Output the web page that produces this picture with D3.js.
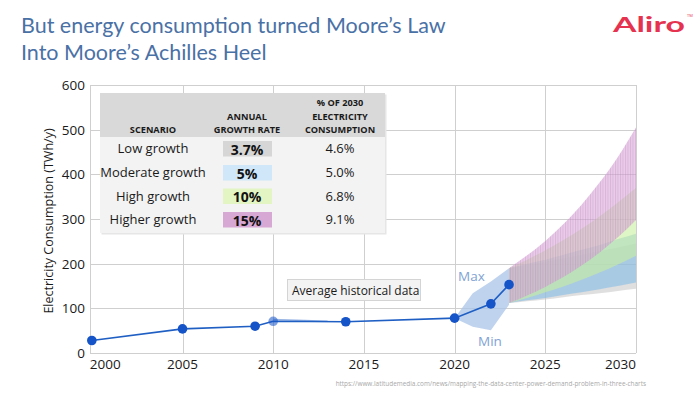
<!DOCTYPE html>
<html lang="en">
<head>
<meta charset="UTF-8">
<title>Moore's Achilles Heel</title>
<script src="https://d3js.org/d3.v7.min.js"></script>
<style>
    body { margin: 0; background: #fff; }
    svg { display: block; }
</style>
</head>
<body>
<div id="chart"></div>
<script>
    // historical data (TWh/y)
    const histYears = [2000, 2005, 2009, 2010, 2014, 2020, 2022, 2023];
    const histValues = [28, 54, 60, 71, 70, 78, 110, 153];

    // min / max envelope around recent years
    const rangeYears = [2020, 2021, 2022, 2023];
    const rangeMax = [78, 134, 160, 190];
    const rangeMin = [78, 59, 51, 108];

    // projections 2023 -> 2030
    const projYears = [2023, 2024, 2025, 2026, 2027, 2028, 2029, 2030];
    const lowMin = [112, 116, 120, 125, 130, 134, 139, 144];
    const lowMax = [190, 197, 204, 212, 220, 228, 236, 245];
    const modMin = [112, 118, 123, 130, 136, 143, 150, 158];
    const modMax = [190, 200, 209, 220, 231, 242, 255, 267];
    const highMin = [112, 123, 136, 149, 164, 180, 198, 218];
    const highMax = [190, 209, 230, 253, 278, 306, 337, 370];
    const higherMin = [112, 129, 148, 170, 196, 225, 259, 298];
    const higherMax = [190, 219, 251, 289, 332, 382, 439, 505];

    // table
    const scenarios = ["Low growth", "Moderate growth", "High growth", "Higher growth"];
    const growthRates = ["3.7%", "5%", "10%", "15%"];
    const shares2030 = ["4.6%", "5.0%", "6.8%", "9.1%"];

    const xTicks = [2000, 2005, 2010, 2015, 2020, 2025, 2030];
    const yTicks = [0, 100, 200, 300, 400, 500, 600];

    const width = 700, height = 393;
    const font = "'Open Sans', sans-serif";

    const svg = d3.select("#chart").append("svg")
        .attr("width", width)
        .attr("height", height);

    const x = d3.scaleLinear().domain([1999.9, 2030]).range([90, 636]);
    const y = d3.scaleLinear().domain([0, 600]).range([353, 85]);

    // title
    svg.append("text")
        .attr("x", 21).attr("y", 33)
        .attr("font-family", "Lato, sans-serif")
        .attr("font-size", 21.5)
        .attr("fill", "#4a71a6")
        .selectAll("tspan")
        .data(["But energy consumption turned Moore\u2019s Law", "Into Moore\u2019s Achilles Heel"])
        .join("tspan")
        .attr("x", 21)
        .attr("dy", (d, i) => i ? 26.5 : 0)
        .text(d => d);

    // logo
    svg.append("text")
        .attr("x", 613).attr("y", 32)
        .attr("font-family", "Lato, sans-serif")
        .attr("font-weight", 700)
        .attr("font-size", 21)
        .attr("textLength", 72)
        .attr("lengthAdjust", "spacingAndGlyphs")
        .attr("fill", "#e5334f")
        .text("Aliro");
    svg.append("text")
        .attr("x", 687).attr("y", 17)
        .attr("font-family", font)
        .attr("font-size", 4)
        .attr("fill", "#e5334f")
        .text("TM");

    // grid
    const grid = svg.append("g").attr("stroke", "#cfcfcf").attr("stroke-width", 1);
    grid.selectAll("line.h")
        .data(yTicks)
        .join("line")
        .attr("x1", x(1999.9)).attr("x2", x(2030))
        .attr("y1", d => Math.round(y(d)) + 0.5).attr("y2", d => Math.round(y(d)) + 0.5);
    grid.selectAll("line.v")
        .data([1999.9].concat(xTicks.slice(1)))
        .join("line")
        .attr("x1", d => Math.round(x(d)) + 0.5).attr("x2", d => Math.round(x(d)) + 0.5)
        .attr("y1", y(600)).attr("y2", y(0));

    // tick labels
    svg.append("g")
        .selectAll("text")
        .data(yTicks)
        .join("text")
        .attr("x", 85)
        .attr("y", d => y(d) + 5)
        .attr("text-anchor", "end")
        .attr("font-family", font)
        .attr("font-size", 13.5)
        .attr("fill", "#1a1a1a")
        .text(d => d);

    svg.append("g")
        .selectAll("text")
        .data(xTicks)
        .join("text")
        .attr("x", (d, i) => i === 0 ? x(d) - 2 : x(d))
        .attr("y", 369)
        .attr("text-anchor", (d, i) => i === 0 ? "start" : (i === xTicks.length - 1 ? "end" : "middle"))
        .attr("font-family", font)
        .attr("font-size", 13.5)
        .attr("fill", "#1a1a1a")
        .text(d => d);

    svg.append("text")
        .attr("transform", "translate(53,221) rotate(-90)")
        .attr("text-anchor", "middle")
        .attr("font-family", font)
        .attr("font-size", 12.5)
        .attr("fill", "#1a1a1a")
        .text("Electricity Consumption (TWh/y)");

    // hatch pattern for the higher growth band
    const defs = svg.append("defs");
    defs.append("pattern")
        .attr("id", "hatch")
        .attr("patternUnits", "userSpaceOnUse")
        .attr("width", 2.5).attr("height", 6)
        .call(p => {
            p.append("rect").attr("width", 2.5).attr("height", 6).attr("fill", "#d9a2d8").attr("fill-opacity", 0.55);
            p.append("line").attr("x1", 0.5).attr("x2", 0.5).attr("y1", 0).attr("y2", 6)
                .attr("stroke", "#a67aa6").attr("stroke-opacity", 0.4).attr("stroke-width", 0.7);
        });

    // projection bands
    const area = d3.area()
        .x(d => x(d.year))
        .y0(d => y(d.lo))
        .y1(d => y(d.hi))
        .curve(d3.curveMonotoneX);

    const bands = [
        { lo: lowMin, hi: lowMax, fill: "#c4c4c4", op: 0.55 },
        { lo: modMin, hi: modMax, fill: "#86bce6", op: 0.6 },
        { lo: highMin, hi: highMax, fill: "#c8ee9e", op: 0.6 },
        { lo: higherMin, hi: higherMax, fill: "url(#hatch)", op: 1 }
    ];
    svg.append("g")
        .selectAll("path")
        .data(bands)
        .join("path")
        .attr("d", b => area(projYears.map((yr, i) => ({ year: yr, lo: b.lo[i], hi: b.hi[i] }))))
        .attr("fill", b => b.fill)
        .attr("fill-opacity", b => b.op);

    // min / max envelope
    const envArea = d3.area()
        .x(d => x(d.year))
        .y0(d => y(d.lo))
        .y1(d => y(d.hi));
    svg.append("path")
        .attr("d", envArea(rangeYears.map((yr, i) => ({ year: yr, lo: rangeMin[i], hi: rangeMax[i] }))))
        .attr("fill", "#a9c4e8")
        .attr("fill-opacity", 0.75);

    svg.append("text")
        .attr("x", 458).attr("y", 281)
        .attr("font-family", font).attr("font-size", 13.5)
        .attr("fill", "#7fa3d4")
        .text("Max");
    svg.append("text")
        .attr("x", 478).attr("y", 346)
        .attr("font-family", font).attr("font-size", 13.5)
        .attr("fill", "#7fa3d4")
        .text("Min");

    // historical line
    const hist = histYears.map((yr, i) => ({ year: yr, v: histValues[i] }));
    const line = d3.line().x(d => x(d.year)).y(d => y(d.v));

    svg.append("path")
        .attr("d", line([{ year: 2010, v: 75 }, { year: 2013, v: 71 }]))
        .attr("fill", "none")
        .attr("stroke", "#6f97d8")
        .attr("stroke-width", 1.5)
        .attr("stroke-opacity", 0.7);

    svg.append("path")
        .attr("d", line(hist))
        .attr("fill", "none")
        .attr("stroke", "#1f5fc4")
        .attr("stroke-width", 1.6);

    svg.append("g")
        .selectAll("circle")
        .data(hist)
        .join("circle")
        .attr("cx", d => x(d.year))
        .attr("cy", d => y(d.v))
        .attr("r", 4.8)
        .attr("fill", "#1553c8")
        .attr("fill-opacity", d => d.year === 2010 ? 0.55 : 1);

    // annotation box
    const ann = svg.append("g");
    ann.append("rect")
        .attr("x", 287.5).attr("y", 279.5)
        .attr("width", 133).attr("height", 21)
        .attr("fill", "#f3f3f3")
        .attr("stroke", "#d4d4d4");
    ann.append("text")
        .attr("x", 292).attr("y", 294.5)
        .attr("font-family", font).attr("font-size", 12)
        .attr("fill", "#1a1a1a")
        .text("Average historical data");

    // scenario table
    const tbl = svg.append("g");
    const tx0 = 100, tx1 = 385, ty0 = 93, tyH = 137, ty1 = 233;
    tbl.append("rect")
        .attr("x", tx0 + 1.5).attr("y", ty0 + 1.5)
        .attr("width", tx1 - tx0).attr("height", ty1 - ty0)
        .attr("fill", "#e6e6e6");
    tbl.append("rect")
        .attr("x", tx0).attr("y", ty0)
        .attr("width", tx1 - tx0).attr("height", ty1 - ty0)
        .attr("fill", "#f3f3f3");
    tbl.append("rect")
        .attr("x", tx0).attr("y", ty0)
        .attr("width", tx1 - tx0).attr("height", tyH - ty0)
        .attr("fill", "#d9d9d9");

    const colX = [153, 247, 340];
    const header = [["SCENARIO"], ["ANNUAL", "GROWTH RATE"], ["% OF 2030", "ELECTRICITY", "CONSUMPTION"]];
    header.forEach((lines, c) => {
        tbl.append("g")
            .selectAll("text")
            .data(lines)
            .join("text")
            .attr("x", colX[c])
            .attr("y", (d, i) => 133 - (lines.length - 1 - i) * 13.5)
            .attr("text-anchor", "middle")
            .attr("font-family", font)
            .attr("font-weight", 700)
            .attr("font-size", 9.2)
            .attr("fill", "#1a1a1a")
            .text(d => d);
    });

    const rowY = [149, 173, 196.5, 220];
    const rateFill = ["#d6d6d6", "#cfe7f8", "#e2f5c3", "#d8a8d5"];

    tbl.append("g").selectAll("rect")
        .data(growthRates)
        .join("rect")
        .attr("x", 223).attr("y", (d, i) => rowY[i] - 8)
        .attr("width", 49).attr("height", 15.5)
        .attr("fill", (d, i) => rateFill[i]);

    tbl.append("g").selectAll("text")
        .data(scenarios)
        .join("text")
        .attr("x", colX[0]).attr("y", (d, i) => rowY[i] + 4)
        .attr("text-anchor", "middle")
        .attr("font-family", font).attr("font-size", 13)
        .attr("fill", "#1a1a1a")
        .text(d => d);

    tbl.append("g").selectAll("text")
        .data(growthRates)
        .join("text")
        .attr("x", colX[1]).attr("y", (d, i) => rowY[i] + 5.5)
        .attr("text-anchor", "middle")
        .attr("font-family", font).attr("font-size", 14).attr("font-weight", 700)
        .attr("fill", "#111")
        .text(d => d);

    tbl.append("g").selectAll("text")
        .data(shares2030)
        .join("text")
        .attr("x", colX[2]).attr("y", (d, i) => rowY[i] + 4)
        .attr("text-anchor", "middle")
        .attr("font-family", font).attr("font-size", 13)
        .attr("fill", "#1a1a1a")
        .text(d => d);

    // source
    svg.append("text")
        .attr("x", 646).attr("y", 386)
        .attr("text-anchor", "end")
        .attr("font-family", font).attr("font-size", 6.4)
        .attr("fill", "#a8a8a8")
        .text("https://www.latitudemedia.com/news/mapping-the-data-center-power-demand-problem-in-three-charts");
</script>
</body>
</html>
